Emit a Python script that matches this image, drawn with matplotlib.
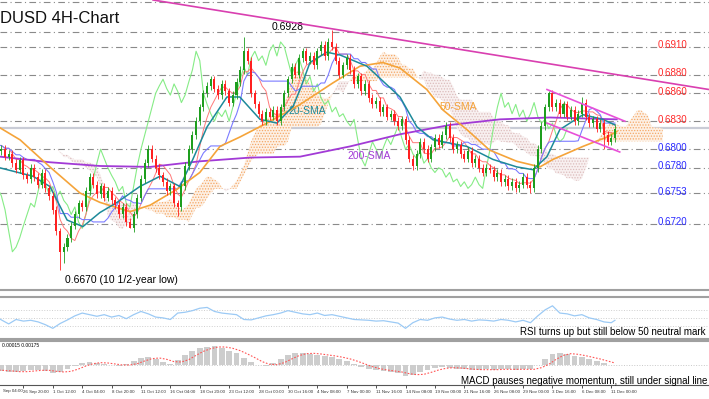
import numpy as np
import pandas as pd
import matplotlib
matplotlib.use("Agg")
import matplotlib.pyplot as plt
from matplotlib.transforms import blended_transform_factory

plt.rcParams['font.family'] = ['Liberation Sans', 'DejaVu Sans']
plt.rcParams['hatch.linewidth'] = 0.6

# closes (one value per candle)
closes = [0.6805, 0.6798,
          0.6800, 0.6792, 0.6795,
          0.6785, 0.6778, 0.6788, 0.6772, 0.6768, 0.6780,
          0.6770, 0.6762, 0.6775, 0.6758, 0.6750,
          0.6735, 0.6712, 0.6690, 0.6695, 0.6705,
          0.6718, 0.6730, 0.6742, 0.6738, 0.6755, 0.6770, 0.6762,
          0.6752, 0.6760, 0.6748, 0.6755, 0.6745,
          0.6740, 0.6730, 0.6738, 0.6722, 0.6715,
          0.6730, 0.6748, 0.6768, 0.6785, 0.6800,
          0.6790, 0.6780, 0.6772, 0.6765, 0.6755, 0.6760,
          0.6742, 0.6738,
          0.6760, 0.6782, 0.6800,
          0.6815, 0.6830, 0.6845, 0.6860, 0.6868, 0.6875, 0.6865,
          0.6858, 0.6870, 0.6862, 0.6850, 0.6858, 0.6872,
          0.6885, 0.6905, 0.6895,
          0.6860, 0.6848, 0.6838, 0.6830, 0.6840, 0.6835,
          0.6842, 0.6830, 0.6845, 0.6860, 0.6875,
          0.6888, 0.6880, 0.6898, 0.6905,
          0.6895, 0.6900, 0.6890, 0.6905, 0.6912, 0.6900, 0.6915,
          0.6910,
          0.6895, 0.6880, 0.6890, 0.6898, 0.6885, 0.6870, 0.6878, 0.6862,
          0.6870, 0.6855, 0.6848, 0.6852, 0.6840, 0.6845, 0.6835, 0.6838, 0.6830, 0.6825, 0.6832,
          0.6810, 0.6790, 0.6782,
          0.6795, 0.6808, 0.6800, 0.6790, 0.6802, 0.6812, 0.6805, 0.6815,
          0.6825,
          0.6812, 0.6800, 0.6805, 0.6795, 0.6790, 0.6798, 0.6785, 0.6790, 0.6780, 0.6775, 0.6780,
          0.6778, 0.6770, 0.6775, 0.6765, 0.6768, 0.6760, 0.6765, 0.6758, 0.6762, 0.6770, 0.6762, 0.6758,
          0.6780, 0.6800, 0.6825, 0.6845, 0.6860,
          0.6845, 0.6850, 0.6838, 0.6848, 0.6835, 0.6842, 0.6830, 0.6838, 0.6850, 0.6835,
          0.6828, 0.6832, 0.6822, 0.6828, 0.6815, 0.6808, 0.6812, 0.6822]
first_open = 0.6810
wick = 0.0004
# notable highs / lows: candle -> (high, low)
extremes = {18: (None, 0.6670), 19: (None, 0.6678), 37: (None, 0.6716), 50: (None, 0.6728),
            68: (0.6920, None), 92: (0.6928, None), 114: (None, 0.6778),
            146: (None, 0.6753), 151: (0.6862, None), 160: (0.6856, None), 166: (None, 0.6800)}

sma20_idx = [1.6, 10.6, 15.2, 19.9, 24.2, 28.8, 33.5, 39.7, 45.2, 50.6, 54.1, 58.0, 63.4, 66.9,
             72.4, 77.0, 81.4, 83.3, 86.0, 90.6, 94.2, 101.5, 110.5, 115.1, 119.5, 128.7, 135.8,
             142.3, 146.7, 150.5, 154.0, 160.3, 165.7, 169.0]
sma20_val = [0.6780, 0.6771, 0.6760, 0.6724, 0.6717, 0.6732, 0.6743, 0.6760, 0.6771, 0.6760,
             0.6789, 0.6824, 0.6856, 0.6856, 0.6832, 0.6828, 0.6846, 0.6864, 0.6893, 0.6904,
             0.6901, 0.6889, 0.6856, 0.6824, 0.6810, 0.6803, 0.6789, 0.6781, 0.6778, 0.6792,
             0.6821, 0.6837, 0.6832, 0.6826]
sma50_idx = [1.6, 7.1, 15.2, 23.4, 28.8, 37.0, 42.5, 49.8, 56.0, 61.5, 66.9, 74.3, 83.3, 92.2,
             99.6, 105.8, 110.5, 117.8, 122.2, 128.7, 134.9, 142.3, 148.6, 152.1, 160.3, 166.8, 169.5]
sma50_val = [0.6823, 0.6810, 0.6781, 0.6753, 0.6743, 0.6733, 0.6740, 0.6757, 0.6775, 0.6803,
             0.6813, 0.6828, 0.6848, 0.6871, 0.6889, 0.6893, 0.6887, 0.6864, 0.6842, 0.6821,
             0.6799, 0.6787, 0.6781, 0.6789, 0.6803, 0.6813, 0.6819]
sma200_idx = [1.6, 15.2, 28.8, 42.5, 56.0, 69.7, 83.3, 96.9, 110.5, 124.1, 137.7, 151.3, 169.5]
sma200_val = [0.6792, 0.6786, 0.6782, 0.6781, 0.6787, 0.6791, 0.6792, 0.6803, 0.6816, 0.6826,
              0.6832, 0.6834, 0.6832]

levels_red = [0.6910, 0.6880, 0.6860, 0.6830]
levels_blue = [0.6800, 0.6780, 0.6753, 0.6720]
extra_grid = [0.6958, 0.6926]
last_price = 0.6823

trend_idx = [43.3, 194.6]
trend_val = [0.6960, 0.6864]
tri_up_idx = [150.5, 171.7]
tri_up_val = [0.6864, 0.6830]
tri_lo_idx = [150.5, 170.3]
tri_lo_val = [0.6828, 0.6797]

# RSI, one reading every second candle, plus the last one
rsi_vals = [56, 45, 35, 46, 42, 44, 40, 33, 24, 36,
            45, 55, 62, 58, 54, 58, 52, 56, 48, 58,
            66, 60, 52, 50, 46, 62, 64, 68, 74, 76,
            66, 62, 60, 58, 46, 45, 50, 55, 58, 62,
            68, 64, 60, 58, 62, 56, 58, 54, 50, 46,
            45, 44, 42, 43, 40, 37, 24, 38, 46, 44,
            50, 52, 47, 44, 46, 42, 45, 44, 42, 46,
            44, 40, 44, 38, 55, 70, 80, 62, 60, 55,
            58, 50, 46, 40, 38, 44]
# MACD histogram in pips, every second candle
macd_vals = [-5, -6, -7, -7, -6, -5, -5, -6, -8, -7, -4,
             -1, 2, 3, 2, 1, 0, -1, 1, 4, 7, 8, 6, 3, 1,
             5, 10, 14, 17, 18, 19, 17, 14, 12, 7, 3, 0, -1,
             2, 6, 10, 12, 12, 11, 10, 9, 8, 6, 4, 1,
             -2, -4, -5, -6, -7, -8, -11, -10, -7, -5, -3, -2, -3, -4, -4, -5, -5, -4, -5, -4,
             -4, -5, -4, -4,
             0, 6, 11, 12, 11, 9, 8, 6, 4, 2, 0]

tick_labels = ["24 Sep 04:00", "26 Sep 20:00", "1 Oct 12:00", "4 Oct 04:00", "8 Oct 20:00",
               "11 Oct 12:00", "16 Oct 04:00", "18 Oct 20:00", "23 Oct 12:00", "28 Oct 00:00",
               "30 Oct 16:00", "4 Nov 08:00", "7 Nov 00:00", "11 Nov 16:00", "14 Nov 08:00",
               "19 Nov 00:00", "21 Nov 16:00", "26 Nov 08:00", "29 Nov 00:00", "3 Dec 16:00",
               "6 Dec 08:00", "11 Dec 00:00"]

# ---- derived series
n = len(closes)
idx = np.arange(n)
c = np.array(closes)
o = np.r_[first_open, c[:-1]]
hi = np.maximum(o, c) + wick
lo = np.minimum(o, c) - wick
for k, (h, l) in extremes.items():
    if h is not None:
        hi[k] = h
    if l is not None:
        lo[k] = l
H = pd.Series(hi)
L = pd.Series(lo)
tenkan = (H.rolling(5, min_periods=1).max() + L.rolling(5, min_periods=1).min()) / 2
kijun = (H.rolling(13, min_periods=1).max() + L.rolling(13, min_periods=1).min()) / 2
spanA = ((tenkan + kijun) / 2).values
spanB = ((H.rolling(26, min_periods=1).max() + L.rolling(26, min_periods=1).min()) / 2).values
shift = 13

X0, X1 = 1.63, 194.6
fig = plt.figure(figsize=(7.09, 3.99), dpi=100)
ax = fig.add_axes([0, 0.2732, 1, 0.7268])
ax_rsi = fig.add_axes([0, 0.1504, 1, 0.1053])
ax_m = fig.add_axes([0, 0.0351, 1, 0.1103])

# ---- main panel
for lv in levels_red + levels_blue + extra_grid:
    ax.axhline(lv, color='#8a8a8a', lw=0.8, ls=(0, (6, 3, 1, 3)), zorder=1)
ax.axhline(last_price, color='#c9ccd6', lw=1.6, zorder=1)

cx = idx + shift
ax.fill_between(cx, spanA, spanB, where=spanA >= spanB, interpolate=True,
                facecolor='#fdf0e4', edgecolor='#f4a766', hatch='......', lw=0, zorder=2)
ax.fill_between(cx, spanA, spanB, where=spanA < spanB, interpolate=True,
                facecolor='#f8f0f0', edgecolor='#dcbcbc', hatch='......', lw=0, zorder=2)

ax.plot(idx - shift, c, color='#86ec86', lw=0.8, zorder=3)
ax.plot(idx, tenkan, color='#ff7a7a', lw=0.7, zorder=4)
ax.plot(idx, kijun, color='#7b7bff', lw=0.8, zorder=4)
ax.plot(sma200_idx, sma200_val, color='#a23ad6', lw=1.3, zorder=4)
ax.plot(sma50_idx, sma50_val, color='#f5a43a', lw=1.2, zorder=4)
ax.plot(sma20_idx, sma20_val, color='#1d8a9a', lw=1.1, zorder=5)

up = c >= o
cols = np.where(up, '#1e9e1e', '#ff2020')
ax.vlines(idx, lo, hi, colors=cols, lw=0.6, zorder=6)
ax.bar(idx, np.maximum(np.abs(c - o), 0.00005), bottom=np.minimum(o, c), width=0.55,
       color=cols, zorder=7)

ax.plot(trend_idx, trend_val, color='#d93fb0', lw=1.2, zorder=8)
ax.plot(tri_up_idx, tri_up_val, color='#e850d8', lw=1.2, zorder=8)
ax.plot(tri_lo_idx, tri_lo_val, color='#e850d8', lw=1.2, zorder=8)

tr = blended_transform_factory(ax.transAxes, ax.transData)
for lv in levels_red:
    ax.text(0.927, lv + 0.00015, f"{lv:.4f}", color='#ff2a2a', fontsize=7, va='center', transform=tr)
for lv in levels_blue:
    ax.text(0.927, lv + 0.00015, f"{lv:.4f}", color='#2a2aff', fontsize=7, va='center', transform=tr)

ax.text(0.0, 0.9345, "DUSD 4H-Chart", fontsize=12, color='#111111', va='center',
        transform=ax.transAxes)
ax.text(75.6, 0.6931, "0.6928", fontsize=7.5, va='center')
ax.text(19.3, 0.6660, "0.6670 (10 1/2-year low)", fontsize=7.5, va='center')
ax.text(80.0, 0.6841, "20-SMA", fontsize=7.5, color='#1d8a9a', va='center')
ax.text(121.4, 0.6845, "50-SMA", fontsize=7.5, color='#f5a43a', va='center')
ax.text(96.3, 0.6793, "200-SMA", fontsize=7.5, color='#a23ad6', va='center')

ax.set_xlim(X0, X1)
ax.set_ylim(0.6649, 0.6960)
ax.set_xticks([])
ax.set_yticks([])
for s in ['top', 'left', 'right']:
    ax.spines[s].set_visible(False)
ax.spines['bottom'].set_color('#a0a0a0')
ax.spines['bottom'].set_linewidth(1.5)

# ---- RSI panel
rsi_idx = list(range(0, n, 2)) + [n - 1]
for lv in [30, 50, 70]:
    ax_rsi.axhline(lv, color='#cfcfcf', lw=0.7, ls=':')
ax_rsi.plot(rsi_idx, rsi_vals, color='#9ccaf5', lw=0.9)
ax_rsi.text(0.733, 0.17, "RSI turns up but still below 50 neutral mark", fontsize=7,
            transform=ax_rsi.transAxes, va='center')
ax_rsi.set_xlim(X0, X1)
ax_rsi.set_ylim(-2.5, 102)
ax_rsi.set_xticks([])
ax_rsi.set_yticks([])
for s in ['left', 'right']:
    ax_rsi.spines[s].set_visible(False)
for s in ['top', 'bottom']:
    ax_rsi.spines[s].set_color('#a0a0a0')
    ax_rsi.spines[s].set_linewidth(1.5)

# ---- MACD panel
m_idx = np.arange(0, n, 2)
m = pd.Series(macd_vals, dtype=float)
signal = m.rolling(3, min_periods=1).mean()
ax_m.axhline(0, color='#c8c8c8', lw=0.7, ls=':')
ax_m.bar(m_idx, m, width=1.6, color='#cdcdcd', zorder=2)
ax_m.plot(m_idx + 1, signal, color='#ff5555', lw=0.8, ls=(0, (1.5, 1.5)), zorder=3)
ax_m.text(0.003, 0.9, "0.00015 0.00175", fontsize=3.5, transform=ax_m.transAxes, va='center')
ax_m.text(0.998, 0.1, "MACD pauses negative momentum, still under signal line", fontsize=7,
          transform=ax_m.transAxes, va='center', ha='right')
ax_m.set_xlim(X0, X1)
ax_m.set_ylim(-20, 24)
ax_m.set_yticks([])
ax_m.set_xticks(range(8, 8 * len(tick_labels), 8))
ax_m.set_xticklabels(tick_labels[1:], fontsize=3.2, ha='left')
ax_m.tick_params(axis='x', length=2.5, width=0.6, pad=1, colors='#333333')
ax_m.text(0.004, -0.1, tick_labels[0].split(' ', 1)[1], fontsize=3.2, color='#333333',
          transform=ax_m.transAxes, va='top')
for s in ['left', 'right']:
    ax_m.spines[s].set_visible(False)
ax_m.spines['top'].set_color('#a0a0a0')
ax_m.spines['top'].set_linewidth(1.5)
ax_m.spines['bottom'].set_color('#555555')
ax_m.spines['bottom'].set_linewidth(0.8)

fig.savefig("out.png", dpi=100)
